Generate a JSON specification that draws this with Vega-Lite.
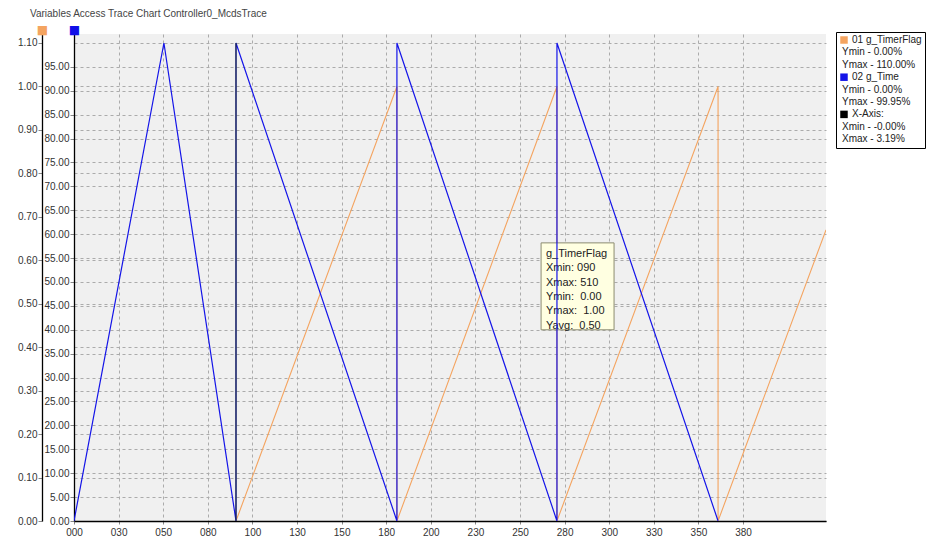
{
  "$schema": "https://vega.github.io/schema/vega-lite/v6.json",
  "width": 752,
  "height": 487,
  "autosize": {"type": "none"},
  "padding": {"left": 74, "top": 34, "right": 113, "bottom": 29},
  "background": "#ffffff",
  "config": {
    "view": {"fill": "#f0f0f0", "stroke": null},
    "font": "Liberation Sans",
    "axis": {
      "labelFont": "Liberation Sans",
      "labelFontSize": 10,
      "labelColor": "#333333",
      "labelOverlap": false,
      "labelFlush": false,
      "gridColor": "#ababab",
      "gridDash": [3, 3],
      "gridWidth": 1,
      "tickColor": "#888888",
      "tickSize": 4,
      "domainColor": "#000000",
      "domainWidth": 1.3
    }
  },
  "title": {
    "text": "Variables Access Trace Chart Controller0_McdsTrace",
    "anchor": "start",
    "frame": "group",
    "fontSize": 10,
    "fontWeight": "normal",
    "font": "Liberation Sans",
    "color": "#444444",
    "dx": -44,
    "offset": 4
  },
  "datasets": {
    "blue": [
      {"t": 0, "v": 0, "series": "b1"},
      {"t": 50.4, "v": 100, "series": "b1"},
      {"t": 90.8, "v": 0, "series": "b1"},
      {"t": 90.8, "v": 100, "series": "b1"},
      {"t": 181.0, "v": 0, "series": "b1"},
      {"t": 181.0, "v": 100, "series": "b1"},
      {"t": 270.7, "v": 0, "series": "b1"},
      {"t": 270.7, "v": 100, "series": "b1"},
      {"t": 361.0, "v": 0, "series": "b1"}
    ],
    "orange": [
      {"t": 90.8, "v": 0, "series": "a1"},
      {"t": 181.0, "v": 1.0, "series": "a1"},
      {"t": 181.0, "v": 0, "series": "a1"},
      {"t": 270.7, "v": 1.0, "series": "a1"},
      {"t": 270.7, "v": 0, "series": "a1"},
      {"t": 361.0, "v": 1.0, "series": "a1"},
      {"t": 361.0, "v": 0, "series": "a1"},
      {"t": 421.5, "v": 0.67, "series": "a1"}
    ],
    "cursor": [
      {"t": 90.8, "v0": 0, "v1": 100}
    ],
    "note": [
      {"t0": 261.8, "t1": 302.7, "top": 0.640, "bottom": 0.440, "tx": 264.5, "ty": 0.628,
       "label": "g_TimerFlag\nXmin: 090\nXmax: 510\nYmin: \u00a00.00\nYmax: \u00a01.00\nYavg: \u00a00.50"}
    ]
  },
  "layer": [
    {
      "layer": [
        {
          "data": {"name": "orange"},
          "mark": {"type": "line", "strokeWidth": 1.1, "clip": true},
          "encoding": {
            "x": {
              "field": "t", "type": "quantitative",
              "scale": {"domain": [0, 421.5], "nice": false, "zero": false},
              "axis": {
                "title": null,
                "values": [0, 25, 50, 75, 100, 125, 150, 175, 200, 225, 250, 275, 300, 325, 350, 375],
                "tickCount": 40,
                "labelExpr": "format(ceil(datum.value/10)*10, '03d')",
                "grid": true,
                "tickSize": 3,
                "labelPadding": 3
              }
            },
            "y": {
              "field": "v", "type": "quantitative",
              "scale": {"domain": [0, 1.1207], "nice": false},
              "axis": {
                "title": "■",
                "titleColor": "#f4a460",
                "titleFont": "DejaVu Sans",
                "titleFontSize": 12,
                "titleFontWeight": "normal",
                "titleAngle": 0,
                "titleX": 0,
                "titleY": -5,
                "titleAlign": "center",
                "titleBaseline": "middle",
                "values": [0, 0.1, 0.2, 0.3, 0.4, 0.5, 0.6, 0.7, 0.8, 0.9, 1.0, 1.1],
                "tickCount": 40,
                "format": ".2f",
                "orient": "left",
                "offset": 32,
                "grid": true,
                "labelPadding": 1
              }
            },
            "color": {
              "field": "series", "type": "nominal",
              "scale": {
                "domain": ["a1", "a2", "a3", "b1", "b2", "b3", "c1", "c2", "c3"],
                "range": ["#f4a460", "transparent", "transparent", "#1414e8", "transparent", "transparent", "#000000", "transparent", "transparent"]
              },
              "legend": {
                "title": null,
                "orient": "none",
                "legendX": 762,
                "legendY": -2,
                "symbolType": "square",
                "symbolSize": 56,
                "symbolStrokeWidth": 0,
                "labelFont": "Liberation Sans",
                "labelFontSize": 10,
                "labelColor": "#222222",
                "labelOffset": 3,
                "rowPadding": 2.4,
                "padding": 3,
                "strokeColor": "#000000",
                "fillColor": "#ffffff",
                "cornerRadius": 0,
                "labelExpr": "({'a1':'01 g_TimerFlag','a2':'Ymin - 0.00%','a3':'Ymax - 110.00%','b1':'02 g_Time','b2':'Ymin - 0.00%','b3':'Ymax - 99.95%','c1':'X-Axis:','c2':'Xmin - -0.00%','c3':'Xmax - 3.19%'})[datum.value]",
                "encode": {
                  "symbols": {"update": {"fill": {"scale": "color", "field": "value"}, "stroke": {"value": "transparent"}}},
                  "labels": {"update": {"dx": {"signal": "(datum.value == 'a1' || datum.value == 'b1' || datum.value == 'c1') ? 0 : -10"}}}
                }
              }
            }
          }
        },
        {
          "data": {"name": "note"},
          "mark": {"type": "rect", "fill": "#ffffe1", "stroke": "#8c8c70", "strokeWidth": 1},
          "encoding": {
            "x": {"field": "t0", "type": "quantitative"},
            "x2": {"field": "t1"},
            "y": {"field": "top", "type": "quantitative"},
            "y2": {"field": "bottom"}
          }
        },
        {
          "data": {"name": "note"},
          "mark": {"type": "text", "align": "left", "baseline": "top", "lineBreak": "\n", "lineHeight": 14.3, "fontSize": 11, "font": "Liberation Sans", "color": "#222222"},
          "encoding": {
            "x": {"field": "tx", "type": "quantitative"},
            "y": {"field": "ty", "type": "quantitative"},
            "text": {"field": "label"}
          }
        }
      ]
    },
    {
      "layer": [
        {
          "data": {"name": "blue"},
          "mark": {"type": "line", "strokeWidth": 1.2, "clip": true},
          "encoding": {
            "x": {"field": "t", "type": "quantitative"},
            "y": {
              "field": "v", "type": "quantitative",
              "scale": {"domain": [0, 101.88], "nice": false},
              "axis": {
                "title": "■",
                "titleColor": "#1010e8",
                "titleFont": "DejaVu Sans",
                "titleFontSize": 12,
                "titleFontWeight": "normal",
                "titleAngle": 0,
                "titleX": 0,
                "titleY": -5,
                "titleAlign": "center",
                "titleBaseline": "middle",
                "values": [0, 5, 10, 15, 20, 25, 30, 35, 40, 45, 50, 55, 60, 65, 70, 75, 80, 85, 90, 95],
                "tickCount": 40,
                "format": ".2f",
                "orient": "left",
                "offset": 0,
                "grid": true,
                "labelPadding": 1
              }
            },
            "color": {"field": "series", "type": "nominal"}
          }
        },
        {
          "data": {"name": "cursor"},
          "mark": {"type": "rule", "color": "#1c2c1c", "strokeWidth": 1},
          "encoding": {
            "x": {"field": "t", "type": "quantitative"},
            "y": {"field": "v0", "type": "quantitative"},
            "y2": {"field": "v1"}
          }
        }
      ]
    }
  ],
  "resolve": {"scale": {"y": "independent"}}
}
